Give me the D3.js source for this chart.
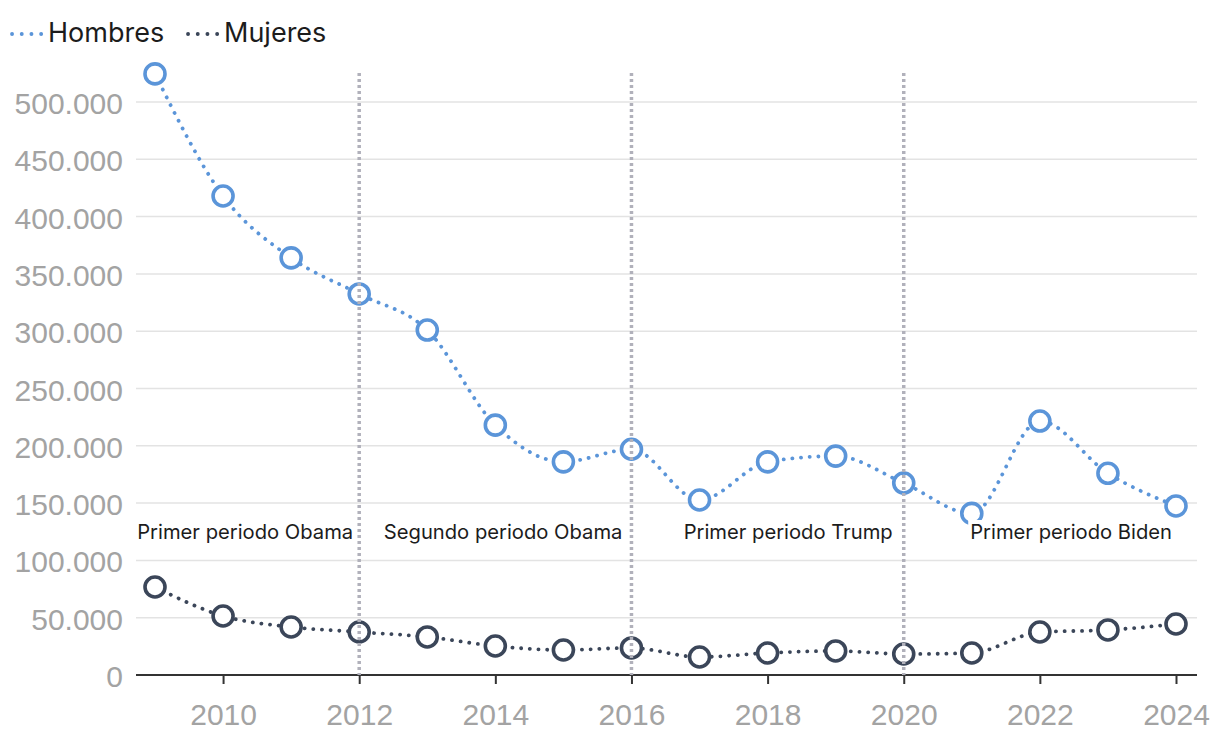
<!DOCTYPE html>
<html><head><meta charset="utf-8">
<script src="https://cdn.jsdelivr.net/npm/d3@7"></script>
<style>
html,body{margin:0;padding:0;background:#fff;}
svg{display:block;}
</style></head>
<body>
<svg id="chart" width="1220" height="736"></svg>
<script>
const years = [2009,2010,2011,2012,2013,2014,2015,2016,2017,2018,2019,2020,2021,2022,2023,2024];
const hombres = [524500,418000,364000,332500,301000,218000,186000,197000,152700,186000,191000,167500,141000,221600,176000,147500];
const mujeres = [76800,51500,41900,37500,33200,25300,21800,23600,15700,19200,21000,18300,19200,37500,39300,44500];
const seriesNames = ["Hombres","Mujeres"];
const seriesColors = ["#5b95d9","#3b4659"];
const yTicks = [0,50000,100000,150000,200000,250000,300000,350000,400000,450000,500000];
const xTicks = [2010,2012,2014,2016,2018,2020,2022,2024];
const periodBreaks = [2012,2016,2020];
const periods = [
  {label:"Primer periodo Obama", end:2012},
  {label:"Segundo periodo Obama", end:2016},
  {label:"Primer periodo Trump", end:2020},
  {label:"Primer periodo Biden", end:2024}
];

const svg = d3.select("#chart");
const x = d3.scaleLinear().domain([2009,2024]).range([155,1176]);
const y = d3.scaleLinear().domain([0,500000]).range([675,102]);
const left = 136, right = 1197;
const fmt = v => d3.format(",")(v).replace(/,/g,".");
const dotDash = "0.1,8.6";

// gridlines
svg.append("g").selectAll("line").data(yTicks.filter(d=>d>0)).join("line")
  .attr("x1",left).attr("x2",right).attr("y1",d=>y(d)).attr("y2",d=>y(d))
  .attr("stroke","#e3e3e3").attr("stroke-width",1.5);

// y labels
svg.append("g").selectAll("text").data(yTicks).join("text")
  .attr("x",123).attr("y",d=>y(d)+12)
  .attr("text-anchor","end")
  .attr("font-family","Liberation Sans, Arial, sans-serif")
  .attr("font-size",30).attr("fill","#a3a3a3")
  .text(d=>fmt(d));

// x axis
const xAxis = d3.axisBottom(x).tickValues(xTicks).tickFormat(d3.format("d")).tickSize(9).tickPadding(20);
const gx = svg.append("g").attr("transform",`translate(0,${y(0)})`).call(xAxis);
gx.select(".domain").remove();
gx.selectAll(".tick line").attr("stroke","#333").attr("stroke-width",2);
gx.selectAll(".tick text").attr("font-family","Liberation Sans, Arial, sans-serif")
  .attr("font-size",30).attr("fill","#a3a3a3");
svg.append("line").attr("x1",left).attr("x2",right).attr("y1",y(0)).attr("y2",y(0))
  .attr("stroke","#333").attr("stroke-width",2);

// lines
const data = [hombres, mujeres];
const line = d3.line().x((d,i)=>x(years[i])).y(d=>y(d)).curve(d3.curveMonotoneX);
data.forEach((vals,k)=>{
  svg.append("path").attr("d",line(vals)).attr("fill","none")
    .attr("stroke",seriesColors[k]).attr("stroke-width",3.8)
    .attr("stroke-linecap","round").attr("stroke-dasharray",dotDash);
});
// points
data.forEach((vals,k)=>{
  svg.append("g").selectAll("circle").data(vals).join("circle")
    .attr("cx",(d,i)=>x(years[i])).attr("cy",d=>y(d)).attr("r",10)
    .attr("fill","#fff").attr("stroke",seriesColors[k]).attr("stroke-width",3.6);
});

// vertical period lines
svg.append("g").selectAll("line").data(periodBreaks).join("line")
  .attr("x1",d=>x(d)).attr("x2",d=>x(d)).attr("y1",73).attr("y2",y(0))
  .attr("stroke","#b1b1bb").attr("stroke-width",3.5).attr("stroke-dasharray","3,3");

// annotations
const ag = svg.append("g");
const gaps = [6,9,11,4];
periods.forEach((p,i)=>{
  const g = ag.append("g");
  const t = g.append("text").attr("x",x(p.end)-gaps[i]).attr("y",539).attr("text-anchor","end")
    .attr("font-family","Inter, Roboto, sans-serif").attr("font-size",20.2).attr("fill","#1c1c1c")
    .text(p.label);
  const bb = t.node().getBBox();
  g.insert("rect","text").attr("x",bb.x-2).attr("y",bb.y+1).attr("width",bb.width+4).attr("height",bb.height-2)
    .attr("fill","#fff");
});

// legend
const lg = svg.append("g");
const legX = [10,186];
seriesNames.forEach((n,k)=>{
  lg.append("line").attr("x1",legX[k]+2).attr("x2",legX[k]+32).attr("y1",34).attr("y2",34)
    .attr("stroke",seriesColors[k]).attr("stroke-width",3.8).attr("stroke-linecap","round")
    .attr("stroke-dasharray","0.1,9.6");
  lg.append("text").attr("x",legX[k]+38).attr("y",42)
    .attr("font-family","Inter, Roboto, sans-serif").attr("font-size",27).attr("fill","#1c1c1c")
    .text(n);
});
</script>
</body></html>
